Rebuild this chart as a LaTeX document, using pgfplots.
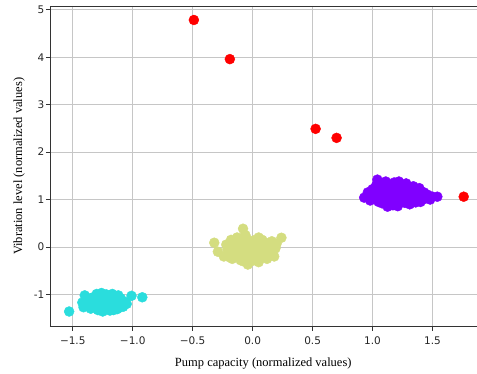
\documentclass[border=0pt]{standalone}
\usepackage{fontspec}
\usepackage{pgfplots}
\pgfplotsset{compat=1.18}
\setmainfont{Liberation Serif}
\newfontfamily\tickfont{DejaVu Sans}
\definecolor{cpurple}{HTML}{8000FF}
\definecolor{ccyan}{HTML}{2ADDDD}
\definecolor{cyel}{HTML}{D4DD80}
\definecolor{cred}{HTML}{FF0000}
\begin{document}
\begin{tikzpicture}
\begin{axis}[
  scale only axis,
  width=427pt, height=321pt,
  xmin=-1.69, xmax=1.867,
  ymin=-1.68, ymax=5.08,
  axis lines*=left,
  axis line style={line width=0.8pt, black!80},
  tick align=outside,
  tick style={line width=0.8pt, black!80},
  major tick length=4pt,
  grid=major,
  grid style={line width=0.9pt, gray!45},
  xtick={-1.5,-1,-0.5,0,0.5,1,1.5},
  xticklabels={−1.5,−1.0,−0.5,0.0,0.5,1.0,1.5},
  ytick={-1,0,1,2,3,4,5},
  yticklabels={-1,0,1,2,3,4,5},
  ticklabel style={font=\tickfont\fontsize{10.5}{12}\selectfont, text=black!85},
  yticklabel style={inner sep=1.5pt},
  xticklabel style={inner sep=2pt, yshift=-3.5pt},
  xlabel={Pump capacity (normalized values)},
  ylabel={Vibration level (normalized values)},
  label style={font=\fontsize{12.5}{14}\selectfont},
  xlabel style={at={(axis description cs:0.5,0)}, anchor=center, yshift=-37pt},
  ylabel style={yshift=4pt},
  clip=false,
]
\addplot[only marks, mark=*, mark size=5pt, mark options={draw=ccyan, fill=ccyan}] coordinates {
(-1.53,-1.36) (-1.01,-1.03) (-0.92,-1.06) (-1.40,-1.02) (-1.30,-0.99) (-1.26,-0.97)
(-1.22,-1.00) (-1.17,-0.99) (-1.12,-1.02) (-1.42,-1.17) (-1.41,-1.27) (-1.38,-1.11)
(-1.36,-1.22) (-1.35,-1.30) (-1.33,-1.06) (-1.32,-1.16) (-1.30,-1.25) (-1.29,-1.33)
(-1.27,-1.10) (-1.26,-1.20) (-1.25,-1.36) (-1.24,-1.04) (-1.23,-1.28) (-1.21,-1.14)
(-1.20,-1.22) (-1.19,-1.34) (-1.18,-1.07) (-1.16,-1.18) (-1.15,-1.27) (-1.14,-1.12)
(-1.13,-1.31) (-1.11,-1.21) (-1.10,-1.08) (-1.09,-1.16) (-1.08,-1.26) (-1.07,-1.15)
(-1.34,-1.14) (-1.28,-1.18) (-1.22,-1.22) (-1.17,-1.24) (-1.39,-1.24) (-1.31,-1.28)
(-1.12,-1.29) (-1.37,-1.18) (-1.33,-1.24) (-1.29,-1.12) (-1.25,-1.27) (-1.24,-1.14)
(-1.20,-1.30) (-1.19,-1.10) (-1.15,-1.21) (-1.13,-1.08) (-1.10,-1.24) (-1.27,-1.32)
(-1.35,-1.08) (-1.21,-1.06) (-1.16,-1.33) (-1.05,-1.20)
};
\addplot[only marks, mark=*, mark size=5pt, mark options={draw=cyel, fill=cyel}] coordinates {
(-0.08,0.385) (-0.32,0.09) (-0.29,-0.10) (0.24,0.195) (-0.04,-0.37) (-0.22,0.05)
(-0.20,-0.15) (-0.18,0.15) (-0.17,-0.25) (-0.15,0.02) (-0.13,0.20) (-0.12,-0.10)
(-0.10,-0.28) (-0.09,0.10) (-0.07,-0.05) (-0.05,0.17) (-0.04,-0.20) (-0.02,0.05)
(0.00,-0.12) (0.01,0.14) (0.03,-0.28) (0.04,0.02) (0.06,0.12) (0.07,-0.18)
(0.09,-0.05) (0.10,0.10) (0.12,-0.25) (0.13,0.05) (0.15,-0.12) (0.16,0.12)
(0.18,-0.20) (0.19,-0.03) (0.20,0.07) (-0.24,-0.20) (-0.14,-0.18) (-0.06,0.25)
(0.02,-0.22) (0.08,0.15) (-0.11,0.07) (0.11,0.00) (-0.21,-0.05) (-0.16,-0.08)
(-0.13,0.10) (-0.08,0.00) (-0.06,-0.14) (-0.03,0.12) (0.00,0.00) (0.02,-0.06)
(0.05,0.20) (0.06,-0.10) (0.10,-0.15) (0.14,-0.02) (-0.10,0.18) (-0.01,-0.30)
(0.17,0.02) (-0.19,-0.22) (0.05,-0.32) (-0.08,-0.30)
};
\addplot[only marks, mark=*, mark size=5pt, mark options={draw=cpurple, fill=cpurple}] coordinates {
(1.04,1.42) (0.93,1.04) (1.54,1.06) (1.125,0.85) (0.96,1.15) (0.98,0.98)
(1.02,1.10) (1.03,1.30) (1.05,0.95) (1.07,1.20) (1.09,1.35) (1.10,1.02)
(1.12,1.12) (1.13,0.90) (1.15,1.28) (1.16,1.05) (1.18,1.36) (1.19,1.18)
(1.20,0.92) (1.22,1.08) (1.23,1.30) (1.25,0.98) (1.26,1.20) (1.28,1.34)
(1.29,1.05) (1.31,0.90) (1.32,1.16) (1.34,1.28) (1.35,1.00) (1.37,1.12)
(1.39,1.24) (1.40,0.95) (1.42,1.08) (1.44,1.02) (1.46,1.10) (1.48,1.00)
(1.08,0.92) (1.14,1.22) (1.21,0.86) (1.27,1.12) (1.00,1.22) (1.06,1.05)
(1.10,1.25) (1.13,1.00) (1.17,1.15) (1.20,1.26) (1.24,1.03) (1.27,0.93)
(1.30,1.22) (1.33,1.07) (1.36,0.94) (1.38,1.18) (1.11,1.38) (1.22,1.38)
(1.02,1.02) (1.05,1.15) (1.43,1.15) (1.17,0.88) (1.50,1.06)
};
\addplot[only marks, mark=*, mark size=5pt, mark options={draw=cred, fill=cred}] coordinates {
(-0.49,4.785) (-0.19,3.96) (0.525,2.49) (0.70,2.30) (1.76,1.06)
};
\draw[line width=0.8pt, black!80] (rel axis cs:0,1) -- (rel axis cs:1,1);
\path (rel axis cs:0,0) ++(-50pt,-47pt) coordinate (bbsw);
\path (rel axis cs:1,1) ++(0pt,6pt) coordinate (bbne);
\end{axis}
\useasboundingbox (bbsw) rectangle (bbne);
\end{tikzpicture}
\end{document}
